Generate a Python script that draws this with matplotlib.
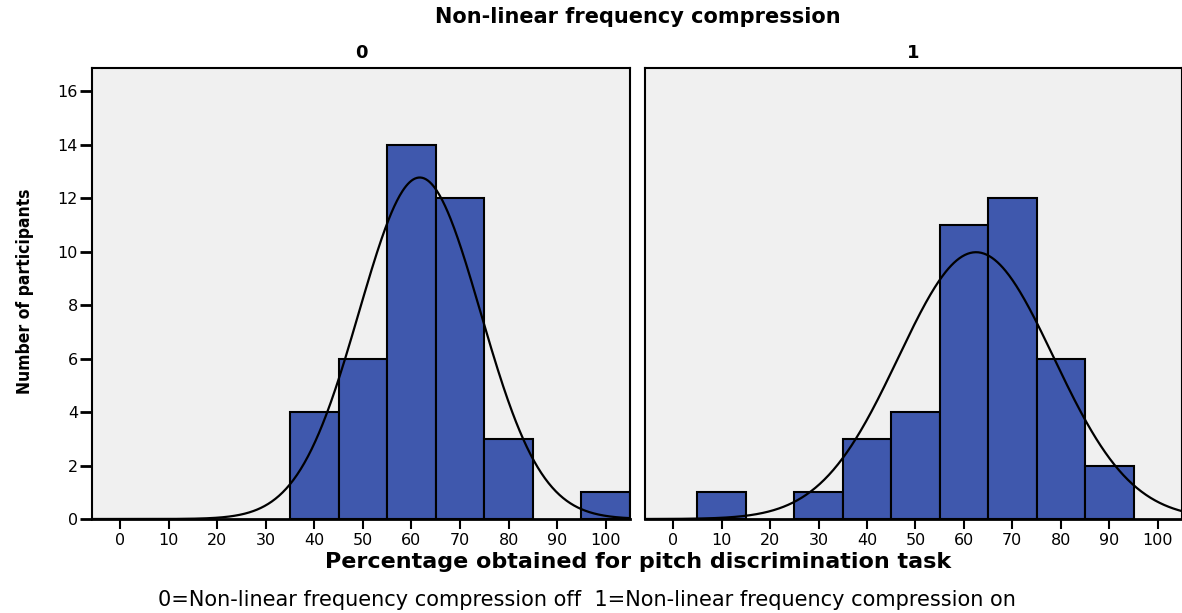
import numpy as np
import matplotlib
matplotlib.use("Agg")
import matplotlib.pyplot as plt

plt.rcParams["font.family"] = ["DejaVu Sans"]

# Data
bin_edges = [-5, 5, 15, 25, 35, 45, 55, 65, 75, 85, 95, 105]
counts_off = [0, 0, 0, 0, 4, 6, 14, 12, 3, 0, 1]
counts_on = [0, 1, 0, 1, 3, 4, 11, 12, 6, 2, 0]
mean_off, sd_off, n_off = 61.7, 12.5, 40
mean_on, sd_on, n_on = 62.5, 16.0, 40
panel_labels = ["0", "1"]
x_ticks = [0, 10, 20, 30, 40, 50, 60, 70, 80, 90, 100]
y_ticks = [0, 2, 4, 6, 8, 10, 12, 14, 16]

bar_color = "#3F58AD"
face = "#F0F0F0"

fig = plt.figure(figsize=(11.82, 6.13), dpi=100)
W, H = 1182, 613
bottom = 1 - 519 / H
height = (519 - 68) / H
axes = [fig.add_axes([92 / W, bottom, 538 / W, height]),
        fig.add_axes([645 / W, bottom, 537 / W, height])]

data = [(counts_off, mean_off, sd_off, n_off), (counts_on, mean_on, sd_on, n_on)]
for i, (ax, (counts, mu, sd, n)) in enumerate(zip(axes, data)):
    ax.set_facecolor(face)
    lefts = np.array(bin_edges[:-1])
    widths = np.diff(bin_edges)
    c = np.array(counts)
    m = c > 0
    ax.bar(lefts[m], c[m], width=widths[m], align="edge", color=bar_color,
           edgecolor="black", linewidth=1.5, zorder=2)
    xs = np.linspace(-6, 106, 600)
    binw = 10
    ys = n * binw / (sd * np.sqrt(2 * np.pi)) * np.exp(-0.5 * ((xs - mu) / sd) ** 2)
    ax.plot(xs, ys, color="black", lw=1.6, zorder=3)
    ax.set_xlim(-5.8, 105.0)
    ax.set_ylim(0, 16.86)
    ax.set_xticks(x_ticks)
    ax.set_xticklabels([str(t) for t in x_ticks], fontsize=11.5)
    ax.tick_params(axis="x", length=7, width=1.5, pad=3, direction="out")
    for s in ax.spines.values():
        s.set_linewidth(1.5)
    ax.spines["bottom"].set_linewidth(2)
    if i == 0:
        ax.set_yticks(y_ticks)
        ax.set_yticklabels([str(t) for t in y_ticks], fontsize=11.5)
        ax.tick_params(axis="y", length=9, width=2, pad=1, direction="out")
    else:
        ax.set_yticks([])
    ax.set_title(panel_labels[i], fontsize=13, fontweight="bold", pad=7)

fig.text(638 / W, 1 - 17 / H, "Non-linear frequency compression", ha="center", va="center",
         fontsize=15, fontweight="bold")
fig.text(638 / W, 1 - 562 / H, "Percentage obtained for pitch discrimination task",
         ha="center", va="center", fontsize=16, fontweight="bold")
fig.text(587 / W, 1 - 600 / H,
         "0=Non-linear frequency compression off  1=Non-linear frequency compression on",
         ha="center", va="center", fontsize=15)
fig.text(25 / W, 1 - 291 / H, "Number of participants", rotation=90, ha="center", va="center",
         fontsize=12.5, fontweight="bold", fontstretch="condensed")

fig.savefig("out.png", dpi=100)
